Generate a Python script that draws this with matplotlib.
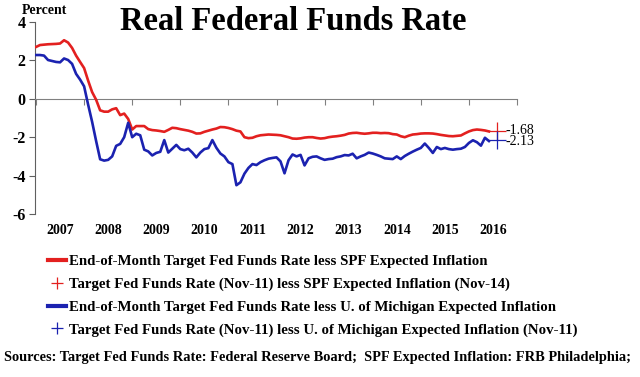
import matplotlib
matplotlib.use("Agg")
import matplotlib.pyplot as plt
from matplotlib.lines import Line2D
import numpy as np

plt.rcParams['font.family'] = ['Liberation Serif', 'DejaVu Serif']

# monthly values, Jan 2007 .. Jun 2016
spf_real = [
    2.70, 2.80, 2.82, 2.84, 2.85, 2.86, 2.88, 3.05, 2.93, 2.65,
    2.25, 1.92, 1.60, 0.95, 0.35, -0.05, -0.60, -0.67, -0.67, -0.55,
    -0.49, -0.85, -0.77, -1.05, -1.60, -1.42, -1.42, -1.42, -1.58, -1.63,
    -1.65, -1.68, -1.72, -1.62, -1.51, -1.53, -1.58, -1.62, -1.66, -1.72,
    -1.81, -1.80, -1.72, -1.66, -1.60, -1.55, -1.47, -1.48, -1.52, -1.58,
    -1.66, -1.70, -2.00, -2.05, -2.03, -1.95, -1.90, -1.88, -1.86, -1.87,
    -1.88, -1.90, -1.95, -2.00, -2.07, -2.08, -2.06, -2.02, -2.00, -2.00,
    -2.04, -2.07, -2.05, -2.00, -1.97, -1.95, -1.92, -1.88, -1.81, -1.78,
    -1.77, -1.80, -1.82, -1.80, -1.77, -1.77, -1.79, -1.78, -1.79, -1.84,
    -1.86, -1.95, -2.00, -1.92, -1.86, -1.84, -1.81, -1.80, -1.80, -1.81,
    -1.84, -1.88, -1.91, -1.94, -1.95, -1.93, -1.91, -1.80, -1.70, -1.63,
    -1.60, -1.62, -1.65, -1.70]

mich_real = [
    2.28, 2.28, 2.25, 2.02, 1.97, 1.92, 1.90, 2.10, 2.02, 1.82,
    1.30, 1.00, 0.65, -0.30, -1.20, -2.20, -3.15, -3.22, -3.18, -3.00,
    -2.45, -2.35, -2.00, -1.25, -2.00, -1.82, -1.90, -2.65, -2.74, -2.95,
    -2.82, -2.76, -2.15, -2.80, -2.60, -2.40, -2.62, -2.68, -2.60, -2.80,
    -3.05, -2.80, -2.62, -2.57, -2.15, -2.55, -2.85, -3.00, -3.30, -3.40,
    -4.50, -4.35, -3.90, -3.60, -3.40, -3.45, -3.30, -3.20, -3.12, -3.08,
    -3.05, -3.26, -3.88, -3.20, -2.90, -3.00, -2.92, -3.47, -3.10, -3.02,
    -3.00, -3.10, -3.18, -3.14, -3.12, -3.04, -3.00, -2.93, -2.95, -2.86,
    -3.10, -3.00, -2.92, -2.80, -2.85, -2.92, -3.00, -3.10, -3.12, -3.14,
    -3.00, -3.14, -2.98, -2.86, -2.75, -2.65, -2.56, -2.33, -2.56, -2.82,
    -2.51, -2.62, -2.56, -2.62, -2.65, -2.62, -2.60, -2.51, -2.30, -2.16,
    -2.26, -2.44, -2.03, -2.20]

point_month = 115
spf_point = -1.68
mich_point = -2.13

years = [str(y) for y in range(2007, 2017)]
yticks = [4, 2, 0, -2, -4, -6]

red = '#e3201f'
blue = '#1b22b0'
grey = '#808080'

fig = plt.figure(figsize=(6.4, 3.77), dpi=100)
ax = fig.add_axes([35 / 640, 1 - 214 / 377, 482 / 640, 192 / 377])

months = np.arange(len(spf_real))
ax.plot(months, spf_real, color=red, lw=1.9, zorder=3)
ax.plot(months, mich_real, color=blue, lw=1.9, zorder=3)
ax.plot(point_month, spf_point, '+', color=red, ms=13, mew=0.9, zorder=4)
ax.plot(point_month, mich_point, '+', color=blue, ms=13, mew=0.9, zorder=4)
ax.text(point_month + 2.2, spf_point + 0.05, '-%.2f' % abs(spf_point), fontsize=10,
        va='center', ha='left')
ax.text(point_month + 2.2, mich_point - 0.12, '-%.2f' % abs(mich_point), fontsize=10,
        va='center', ha='left')

ax.set_xlim(-0.25, 119.75)
ax.set_ylim(-6, 4)

for s in ['top', 'right']:
    ax.spines[s].set_visible(False)
ax.spines['bottom'].set_position(('data', 0))
ax.spines['bottom'].set_color(grey)
ax.spines['bottom'].set_linewidth(0.8)
ax.spines['left'].set_color('#606060')
ax.spines['left'].set_linewidth(0.8)

ax.set_xticks(np.arange(0, 121, 12))
ax.set_xticklabels([])
ax.tick_params(axis='x', which='major', length=4, width=0.8, color=grey, direction='out')
ax.set_xticks(np.arange(6, 120, 12), minor=True)
ax.set_xticklabels(years, minor=True, fontsize=10, fontweight='bold')
ax.tick_params(axis='x', which='minor', length=0, pad=90)

ax.set_yticks(yticks)
ax.set_yticklabels([str(v) for v in yticks], fontsize=11.5, fontweight='bold')
ax.tick_params(axis='y', length=4, width=0.8, color='#606060', pad=3)

fig.text(22 / 640, 1 - 10 / 377, 'Percent', fontsize=10, fontweight='bold',
         va='center', ha='left')
fig.text(293 / 640, 1 - 22 / 377, 'Real Federal Funds Rate', fontsize=23.5,
         fontweight='bold', va='center', ha='center')

handles = [
    Line2D([], [], color=red, lw=3),
    Line2D([], [], color=red, marker='+', ls='none', ms=9, mew=0.9),
    Line2D([], [], color=blue, lw=3),
    Line2D([], [], color=blue, marker='+', ls='none', ms=9, mew=0.9),
]
labels = [
    'End-of-Month Target Fed Funds Rate less SPF Expected Inflation',
    'Target Fed Funds Rate (Nov-11) less SPF Expected Inflation (Nov-14)',
    'End-of-Month Target Fed Funds Rate less U. of Michigan Expected Inflation',
    'Target Fed Funds Rate (Nov-11) less U. of Michigan Expected Inflation (Nov-11)',
]
fig.legend(handles, labels, loc='upper left', bbox_to_anchor=(48 / 640, 1 - 255 / 377),
           frameon=False, prop={'weight': 'bold', 'size': 10.7},
           handlelength=1.2, handletextpad=0.2, labelspacing=0.62, borderpad=0,
           borderaxespad=0)

fig.text(4 / 640, 1 - 357 / 377,
         'Sources: Target Fed Funds Rate: Federal Reserve Board;  SPF Expected Inflation: FRB Philadelphia;',
         fontsize=10.4, fontweight='bold', va='center', ha='left')

fig.savefig('out.png', dpi=100)
